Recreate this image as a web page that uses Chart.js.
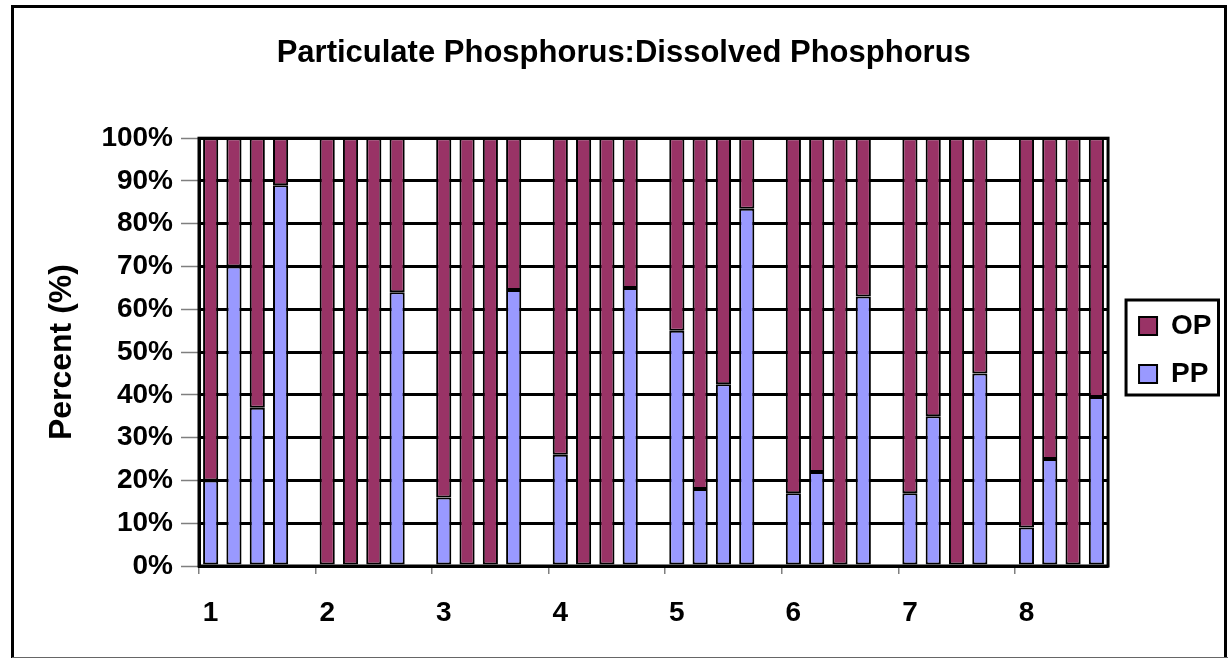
<!DOCTYPE html>
<html>
<head>
<meta charset="utf-8">
<script src="https://cdn.jsdelivr.net/npm/chart.js@4.4.0/dist/chart.umd.min.js"></script>
<style>
  html, body { margin: 0; padding: 0; background: #fff; }
  canvas { display: block; }
</style>
</head>
<body>
<canvas id="myChart" width="1228" height="658"></canvas>
<script>
// sites shown on the x axis, one every 5 slots
var groupLabels = ['1', '2', '3', '4', '5', '6', '7', '8'];
var slotsPerGroup = 5;
var slotCount = 39;

// PP share (%) per slot, null = empty slot between sites
var ppValues = [20, 70, 37, 89, null,
                0, 0, 0, 64, null,
                16, 0, 0, 64.5, null,
                26, 0, 0, 65, null,
                55, 18, 42.5, 83.5, null,
                17, 22, 0, 63, null,
                17, 35, 0, 45, null,
                9, 25, 0, 39.5];

// OP share (%) per slot
var opValues = [80, 30, 63, 11, null,
                100, 100, 100, 36, null,
                84, 100, 100, 35.5, null,
                74, 100, 100, 35, null,
                45, 82, 57.5, 16.5, null,
                83, 78, 100, 37, null,
                83, 65, 100, 55, null,
                91, 75, 100, 60.5];

var labels = [];
for (var i = 0; i < slotCount; i++) {
  labels.push(i % slotsPerGroup === 0 ? groupLabels[i / slotsPerGroup] : '');
}

var FONT = '"Liberation Sans", Arial, sans-serif';
Chart.defaults.color = '#000';
Chart.defaults.font.family = FONT;
Chart.defaults.font.weight = 'bold';

// white background, outer frame, plot border, legend box
var framePlugin = {
  id: 'frame',
  afterLayout: function(chart) {
    // nudge the legend to where Excel put it
    var lg = chart.legend;
    lg.left += 11; lg.right += 11;
    lg.top += 21; lg.bottom += 21;
  },
  beforeDraw: function(chart) {
    var c = chart.ctx;
    c.save();
    c.fillStyle = '#fff';
    c.fillRect(0, 0, chart.width, chart.height);
    c.restore();
  },
  afterDraw: function(chart) {
    var c = chart.ctx;
    var a = chart.chartArea;
    c.save();
    c.strokeStyle = '#000';
    c.lineWidth = 3;
    c.strokeRect(a.left, a.top, a.right - a.left, a.bottom - a.top);
    c.strokeRect(12.5, 6.5, 1213, 660);
    c.lineWidth = 1;
    c.strokeStyle = '#666';
    c.beginPath();
    c.moveTo(12, 657.5);
    c.lineTo(1228, 657.5);
    c.stroke();

    var hb = chart.legend.legendHitBoxes;
    if (hb && hb.length) {
      c.strokeStyle = '#000';
      c.lineWidth = 3;
      var l = Math.min(hb[0].left, hb[1].left) - 13;
      var r = Math.max(hb[0].left + hb[0].width, hb[1].left + hb[1].width) + 7;
      var t = hb[0].top - 12;
      var b = hb[hb.length - 1].top + hb[hb.length - 1].height + 7;
      c.strokeRect(l, t, r - l, b - t);
    }
    c.restore();
  }
};

var ctx = document.getElementById('myChart').getContext('2d');
var myChart = new Chart(ctx, {
  type: 'bar',
  data: {
    labels: labels,
    datasets: [{
      label: 'PP',
      data: ppValues,
      backgroundColor: '#9999FF',
      borderColor: '#000',
      borderWidth: 2,
      borderSkipped: false
    }, {
      label: 'OP',
      data: opValues,
      backgroundColor: '#993366',
      borderColor: '#000',
      borderWidth: 2,
      borderSkipped: false
    }]
  },
  plugins: [framePlugin],
  options: {
    responsive: false,
    animation: false,
    events: [],
    categoryPercentage: 1,
    barPercentage: 0.65,
    layout: { padding: { left: 37, right: 17.5, top: 0, bottom: 0 } },
    plugins: {
      tooltip: { enabled: false },
      title: {
        display: true,
        text: 'Particulate Phosphorus:Dissolved Phosphorus',
        font: { size: 31, weight: 'bold' },
        padding: { top: 35, bottom: 66 }
      },
      legend: {
        position: 'right',
        reverse: true,
        labels: {
          boxWidth: 18,
          boxHeight: 18,
          padding: 20,
          font: { size: 28, weight: 'bold' }
        }
      }
    },
    scales: {
      x: {
        stacked: true,
        grid: {
          display: true,
          drawOnChartArea: false,
          tickLength: 8,
          lineWidth: 1.5,
          color: function(c) {
            return (c.index !== undefined && c.index % slotsPerGroup === 0) ? '#7f7f7f' : 'rgba(0,0,0,0)';
          }
        },
        border: { display: true, color: '#000', width: 3 },
        ticks: {
          autoSkip: false,
          maxRotation: 0,
          padding: 22,
          font: { size: 28, weight: 'bold' }
        },
        afterFit: function(s) { s.height = 92; }
      },
      y: {
        stacked: true,
        min: 0,
        max: 100,
        grid: {
          color: '#000',
          lineWidth: 3,
          tickColor: '#7f7f7f',
          tickWidth: 1.5,
          tickLength: 18
        },
        border: { display: true, color: '#000', width: 3 },
        ticks: {
          stepSize: 10,
          padding: 8,
          font: { size: 28, weight: 'bold' },
          callback: function(v) { return v + '%'; }
        },
        title: {
          display: true,
          text: 'Percent (%)',
          font: { size: 32, weight: 'bold' },
          padding: { top: 6, bottom: 0 }
        },
        afterFit: function(s) { s.width = 162; }
      }
    }
  }
});
</script>
</body>
</html>
